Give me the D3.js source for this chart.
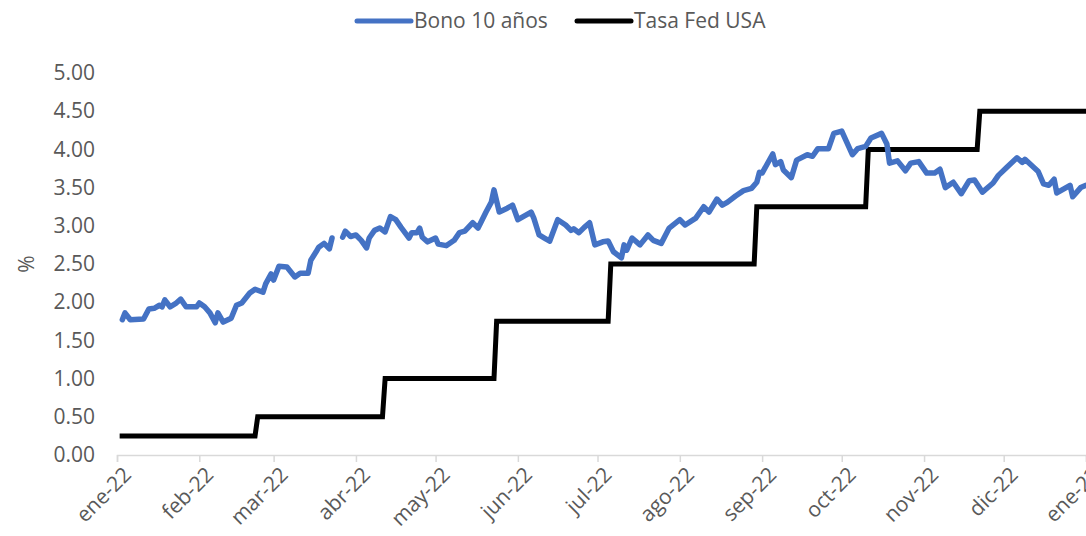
<!DOCTYPE html>
<html>
<head>
<meta charset="utf-8">
<script src="https://cdn.jsdelivr.net/npm/d3@7"></script>
<style>
	body { margin: 0; background: #fff; }
	#graph { width: 1086px; height: 536px; }
	text { font-family: "Open Sans", Lato, sans-serif; fill: #595959; }
</style>
</head>
<body>
<div id="graph"></div>
<script>
// 10 year bond yield
const bonoDates = [
	"2022-01-03","2022-01-04","2022-01-06","2022-01-11","2022-01-13","2022-01-15","2022-01-17","2022-01-18","2022-01-19","2022-01-21",
	"2022-01-23","2022-01-25","2022-01-27","2022-01-31","2022-02-01","2022-02-03","2022-02-05","2022-02-07","2022-02-08","2022-02-10",
	"2022-02-13","2022-02-15","2022-02-17","2022-02-20","2022-02-22","2022-02-25","2022-02-26","2022-02-28","2022-03-01","2022-03-03",
	"2022-03-06","2022-03-09","2022-03-11","2022-03-14","2022-03-15","2022-03-17","2022-03-18","2022-03-20","2022-03-22","2022-03-23",
	"2022-03-26","2022-03-27","2022-03-28","2022-03-30","2022-04-01","2022-04-03","2022-04-05","2022-04-06","2022-04-08","2022-04-10",
	"2022-04-12","2022-04-14","2022-04-16","2022-04-18","2022-04-21","2022-04-22","2022-04-24","2022-04-25","2022-04-26","2022-04-28",
	"2022-05-01","2022-05-02","2022-05-05","2022-05-08","2022-05-10","2022-05-12","2022-05-15","2022-05-17","2022-05-18","2022-05-20",
	"2022-05-22","2022-05-23","2022-05-25","2022-05-28","2022-05-30","2022-06-01","2022-06-03","2022-06-06","2022-06-07","2022-06-09",
	"2022-06-11","2022-06-13","2022-06-16","2022-06-19","2022-06-21","2022-06-22","2022-06-24","2022-06-26","2022-06-28","2022-06-30",
	"2022-07-03","2022-07-05","2022-07-07","2022-07-10","2022-07-11","2022-07-12","2022-07-14","2022-07-17","2022-07-20","2022-07-22",
	"2022-07-25","2022-07-28","2022-08-01","2022-08-03","2022-08-07","2022-08-10","2022-08-12","2022-08-15","2022-08-17","2022-08-19",
	"2022-08-22","2022-08-25","2022-08-28","2022-08-30","2022-08-31","2022-09-01","2022-09-05","2022-09-06","2022-09-08","2022-09-09",
	"2022-09-12","2022-09-14","2022-09-18","2022-09-20","2022-09-22","2022-09-26","2022-09-28","2022-10-01","2022-10-05","2022-10-07",
	"2022-10-10","2022-10-12","2022-10-16","2022-10-18","2022-10-19","2022-10-22","2022-10-25","2022-10-27","2022-10-30","2022-11-02",
	"2022-11-05","2022-11-07","2022-11-09","2022-11-12","2022-11-15","2022-11-18","2022-11-20","2022-11-23","2022-11-27","2022-11-29",
	"2022-12-02","2022-12-06","2022-12-08","2022-12-09","2022-12-14","2022-12-16","2022-12-18","2022-12-20","2022-12-21","2022-12-26",
	"2022-12-27","2022-12-30","2023-01-01"
];
const bonoValues = [
	1.77, 1.86, 1.77, 1.78, 1.91, 1.92, 1.96, 1.94, 2.03, 1.94,
	1.98, 2.04, 1.94, 1.94, 1.99, 1.94, 1.86, 1.73, 1.86, 1.74,
	1.79, 1.96, 1.99, 2.12, 2.17, 2.13, 2.24, 2.37, 2.29, 2.47,
	2.46, 2.33, 2.38, 2.38, 2.55, 2.66, 2.72, 2.77, 2.70, 2.84,
	null, 2.85, 2.93, 2.86, 2.88, 2.81, 2.71, 2.84, 2.94, 2.97,
	2.92, 3.12, 3.08, 2.98, 2.84, 2.91, 2.91, 2.97, 2.85, 2.79,
	2.84, 2.76, 2.74, 2.81, 2.91, 2.93, 3.04, 2.97, 3.04, 3.18,
	3.31, 3.47, 3.18, 3.23, 3.27, 3.08, 3.12, 3.18, 3.10, 2.88,
	2.84, 2.80, 3.08, 3.01, 2.94, 2.96, 2.91, 2.98, 3.04, 2.75,
	2.79, 2.80, 2.66, 2.58, 2.75, 2.68, 2.84, 2.75, 2.88, 2.81,
	2.77, 2.97, 3.08, 3.01, 3.10, 3.25, 3.18, 3.35, 3.27, 3.31,
	3.39, 3.46, 3.49, 3.57, 3.70, 3.69, 3.94, 3.80, 3.84, 3.73,
	3.63, 3.86, 3.93, 3.91, 4.01, 4.01, 4.21, 4.24, 3.93, 4.01,
	4.04, 4.15, 4.21, 4.07, 3.82, 3.85, 3.72, 3.82, 3.84, 3.69,
	3.69, 3.74, 3.50, 3.57, 3.42, 3.59, 3.60, 3.44, 3.56, 3.66,
	3.76, 3.89, 3.83, 3.87, 3.71, 3.55, 3.53, 3.61, 3.43, 3.53,
	3.38, 3.50, 3.53
];

// Fed funds rate, one pair of points per step
const fedDates = [
	"2022-01-02","2022-02-22","2022-02-23","2022-04-11","2022-04-12","2022-05-23","2022-05-24",
	"2022-07-05","2022-07-06","2022-08-29","2022-08-30","2022-10-10","2022-10-11","2022-11-21","2022-11-22","2023-01-01"
];
const fedValues = [0.25, 0.25, 0.50, 0.50, 1.00, 1.00, 1.75, 1.75, 2.50, 2.50, 3.25, 3.25, 4.00, 4.00, 4.50, 4.50];

const seriesNames = ["Bono 10 años", "Tasa Fed USA"];
const seriesColors = ["#4472C4", "#000000"];
const monthLabels = ["ene-22","feb-22","mar-22","abr-22","may-22","jun-22","jul-22","ago-22","sep-22","oct-22","nov-22","dic-22","ene-23"];
const yTicks = [0, 0.5, 1, 1.5, 2, 2.5, 3, 3.5, 4, 4.5, 5];

const width = 1086, height = 536;
const margin = {top: 73, right: 0, bottom: 81, left: 117};
const fontSize = 21;

const parse = d3.timeParse("%Y-%m-%d");
const bono = bonoDates.map((d, i) => ({date: parse(d), value: bonoValues[i]}));
const fed = fedDates.map((d, i) => ({date: parse(d), value: fedValues[i]}));
const monthStarts = monthLabels.map((m, i) => new Date(2022, i, 1));

const x = d3.scaleTime()
	.domain([new Date(2022, 0, 1), new Date(2023, 0, 1)])
	.range([margin.left, width - margin.right]);
const y = d3.scaleLinear()
	.domain([0, 5])
	.range([height - margin.bottom, margin.top]);

const svg = d3.select("#graph").append("svg")
	.attr("width", width)
	.attr("height", height);

// x axis (line + ticks at month starts)
const xAxis = svg.append("g")
	.attr("transform", `translate(0,${y(0)})`)
	.call(d3.axisBottom(x).tickValues(monthStarts).tickSize(7).tickFormat((d, i) => monthLabels[i]));
xAxis.select(".domain").attr("stroke", "#d9d9d9").attr("stroke-width", 1.5);
xAxis.selectAll(".tick line").attr("stroke", "#d9d9d9").attr("stroke-width", 1.5);
xAxis.selectAll(".tick text")
	.attr("font-size", fontSize)
	.attr("text-anchor", "end")
	.attr("dx", 0)
	.attr("dy", 0)
	.attr("transform", "translate(8,14) rotate(-45)");

// y axis labels only, no line
const yAxis = svg.append("g")
	.attr("transform", `translate(${margin.left - 22},0)`)
	.call(d3.axisLeft(y).tickValues(yTicks).tickSize(0).tickFormat(d3.format(".2f")));
yAxis.select(".domain").remove();
yAxis.selectAll(".tick text").attr("font-size", fontSize).attr("x", 0);

svg.append("text")
	.attr("transform", `translate(34,${y(2.5)}) rotate(-90)`)
	.attr("text-anchor", "middle")
	.attr("font-size", fontSize)
	.text("%");

const line = d3.line()
	.defined(d => d.value !== null)
	.x(d => x(d.date))
	.y(d => y(d.value));

svg.append("path")
	.datum(fed)
	.attr("fill", "none")
	.attr("stroke", seriesColors[1])
	.attr("stroke-width", 5)
	.attr("d", line);

svg.append("path")
	.datum(bono)
	.attr("fill", "none")
	.attr("stroke", seriesColors[0])
	.attr("stroke-width", 5.5)
	.attr("stroke-linejoin", "round")
	.attr("stroke-linecap", "round")
	.attr("d", line);

// legend
const legendX = [357, 577];
const legend = svg.append("g");
seriesNames.forEach((name, i) => {
	legend.append("line")
		.attr("x1", legendX[i]).attr("x2", legendX[i] + 54)
		.attr("y1", 21).attr("y2", 21)
		.attr("stroke", seriesColors[i])
		.attr("stroke-width", 5)
		.attr("stroke-linecap", "round");
	legend.append("text")
		.attr("x", legendX[i] + 57)
		.attr("y", 28)
		.attr("font-size", fontSize)
		.text(name);
});
</script>
</body>
</html>
